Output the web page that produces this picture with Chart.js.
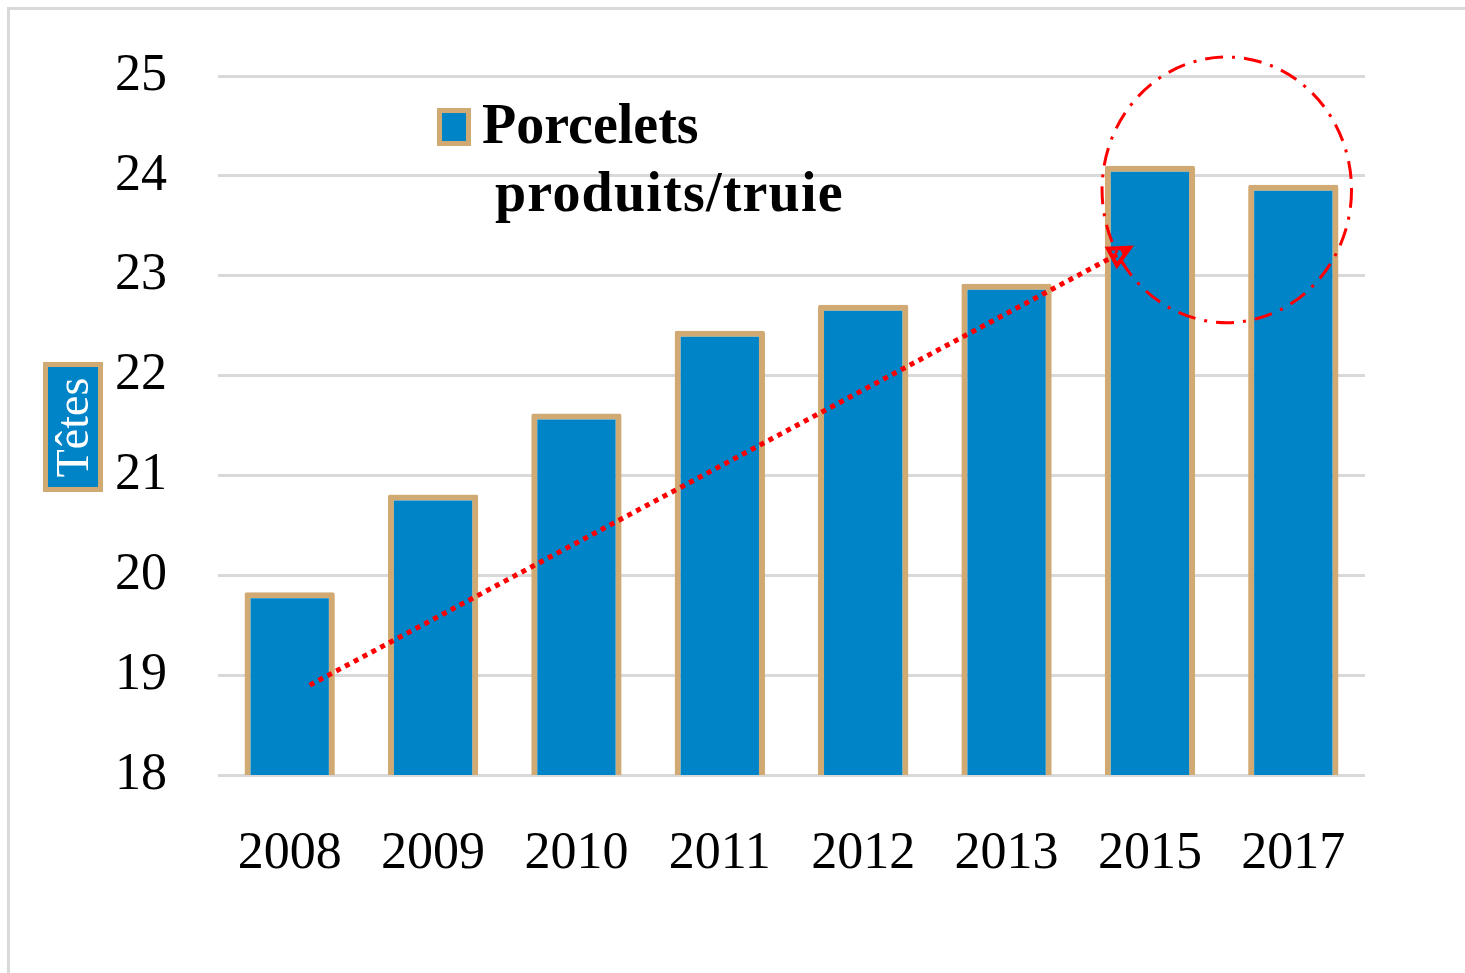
<!DOCTYPE html>
<html lang="fr">
<head>
<meta charset="utf-8">
<script src="https://cdn.jsdelivr.net/npm/chart.js@4.4.0/dist/chart.umd.min.js"></script>
<style>
    body { margin: 0; background: #fff; }
    #cadre { position: absolute; left: 7px; top: 7px; width: 1458px; height: 966px;
             border-top: 3px solid #d9d9d9; border-left: 3px solid #d9d9d9; box-sizing: border-box; }
    #zone { position: absolute; left: 0; top: 0; width: 1465px; height: 973px; }
    #legende { position: absolute; left: 437px; top: 90px; display: flex; align-items: flex-start;
               font-family: 'Liberation Serif', serif; font-weight: bold; font-size: 56px; line-height: 68px; color: #000; }
    #legende .boite { width: 24px; height: 28px; border: 5px solid #d0aa72; margin-top: 18px; margin-right: 11px; }
    #legende .txt { width: 400px; }
    #legende .txt span { display: block; }
    #titreY { position: absolute; left: 43px; top: 362px; width: 60px; height: 130px; box-sizing: border-box;
              border: 5px solid #d0aa72; display: flex; align-items: center; justify-content: center; }
    #titreY span { transform: rotate(-90deg); color: #fff; font-family: 'Liberation Serif', serif; font-size: 46px; white-space: nowrap; }
</style>
</head>
<body>
<div id="zone"><canvas id="graphique" width="1465" height="973"></canvas></div>
<div id="cadre"></div>
<div id="legende"></div>
<div id="titreY"><span></span></div>
<script>
    const annees = ['2008', '2009', '2010', '2011', '2012', '2013', '2015', '2017'];
    const porcelets = [19.83, 20.81, 21.62, 22.45, 22.71, 22.92, 24.1, 23.91];
    const ticksY = [18, 19, 20, 21, 22, 23, 24, 25];
    const titreAxe = 'Têtes';
    const nomSerie = ['Porcelets', 'produits/truie'];

    // flèche de tendance et cercle (en unités des axes)
    const fleche = { x1: 0.14, y1: 18.9, x2: 5.86, y2: 23.28 };
    const cercle = { x: 6.536, y: 23.86, rx: 0.87, ry: 1.33 };

    const bleu = '#0084c8';
    const beige = '#d0aa72';

    const annotations = {
        id: 'annotations',
        afterDatasetsDraw(chart) {
            const ctx = chart.ctx;
            const sx = chart.scales.x;
            const sy = chart.scales.y;
            ctx.save();

            // cercle pointillé
            const cx = sx.getPixelForValue(cercle.x);
            const cy = sy.getPixelForValue(cercle.y);
            const rx = sx.getPixelForValue(cercle.x + cercle.rx) - cx;
            const ry = sy.getPixelForValue(cercle.y - cercle.ry) - cy;
            ctx.strokeStyle = '#ff0000';
            ctx.lineWidth = 3;
            ctx.setLineDash([18, 9, 3, 9]);
            ctx.beginPath();
            ctx.ellipse(cx, cy, rx, ry, 0, 0, Math.PI * 2);
            ctx.stroke();

            // flèche
            const ax = sx.getPixelForValue(fleche.x1);
            const ay = sy.getPixelForValue(fleche.y1);
            const bx = sx.getPixelForValue(fleche.x2);
            const by = sy.getPixelForValue(fleche.y2);
            ctx.lineWidth = 5;
            ctx.setLineDash([5, 5]);
            ctx.beginPath();
            ctx.moveTo(ax, ay);
            ctx.lineTo(bx, by);
            ctx.stroke();

            const ang = Math.atan2(by - ay, bx - ax);
            const L = 22;
            ctx.setLineDash([]);
            ctx.lineWidth = 4;
            ctx.beginPath();
            ctx.moveTo(bx, by);
            ctx.lineTo(bx - L * Math.cos(ang - 0.45), by - L * Math.sin(ang - 0.45));
            ctx.lineTo(bx - L * Math.cos(ang + 0.45), by - L * Math.sin(ang + 0.45));
            ctx.closePath();
            ctx.stroke();
            ctx.restore();
        }
    };

    const grafico = new Chart(document.getElementById('graphique'), {
        type: 'bar',
        data: {
            labels: annees,
            datasets: [{
                label: nomSerie.join(' '),
                data: porcelets,
                backgroundColor: bleu,
                borderColor: beige,
                borderWidth: 6,
                borderSkipped: false,
                borderRadius: 2,
                barPercentage: 0.63,
                categoryPercentage: 1
            }]
        },
        options: {
            responsive: false,
            animation: false,
            layout: { padding: { left: 0, right: 100, top: 76, bottom: 0 } },
            plugins: {
                legend: { display: false },
                tooltip: { enabled: false }
            },
            scales: {
                x: {
                    grid: { display: false },
                    border: { display: false },
                    ticks: { color: '#000', padding: 40, font: { family: 'Liberation Serif', size: 52 } },
                    afterFit(s) { s.height = 198; }
                },
                y: {
                    min: 18,
                    max: 25,
                    afterBuildTicks(s) { s.ticks = ticksY.map(v => ({ value: v })); },
                    grid: { color: '#d9d9d9', lineWidth: 3, drawTicks: false },
                    border: { display: false },
                    ticks: { color: '#000', padding: 51, font: { family: 'Liberation Serif', size: 52 } },
                    afterFit(s) {
                        s.width = 218;
                        s.paddingTop = 0;
                        s.paddingBottom = 0;
                    }
                }
            }
        },
        plugins: [annotations]
    });

    // légende et titre de l'axe en HTML
    const ds = grafico.data.datasets[0];
    const leg = document.getElementById('legende');
    leg.innerHTML = '<div class="boite"></div><div class="txt"></div>';
    leg.querySelector('.boite').style.background = ds.backgroundColor;
    leg.querySelector('.boite').style.borderColor = ds.borderColor;
    nomSerie.forEach(function (ligne, i) {
        const s = document.createElement('span');
        s.textContent = ligne;
        if (i > 0) {
            s.style.paddingLeft = '13px';
            s.style.letterSpacing = '1.2px';
        }
        leg.querySelector('.txt').appendChild(s);
    });
    const ty = document.getElementById('titreY');
    ty.style.background = bleu;
    ty.querySelector('span').textContent = titreAxe;
</script>
</body>
</html>
